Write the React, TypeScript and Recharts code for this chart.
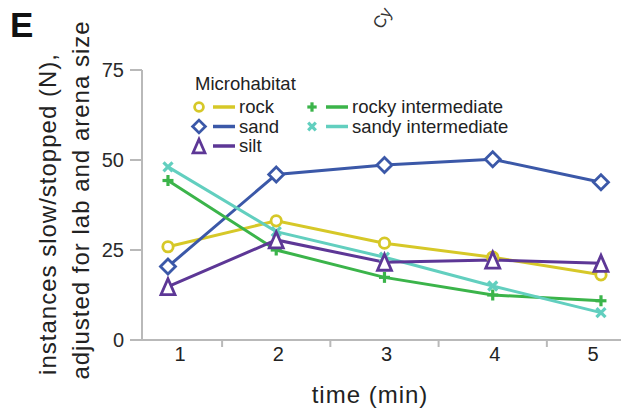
import { LineChart, Line, XAxis, YAxis } from "recharts";

// values
const times = [1, 2, 3, 4, 5];
const rock = [25.9, 33.1, 26.9, 23.0, 18.1];
const sand = [20.4, 46.0, 48.6, 50.2, 43.8];
const silt = [14.8, 27.8, 21.6, 22.2, 21.3];
const rockyIntermediate = [44.3, 25.0, 17.4, 12.5, 10.9];
const sandyIntermediate = [48.1, 30.1, 23.0, 15.0, 7.6];

const yTicks = [0, 25, 50, 75];
const xTicks = [1, 1.5, 2, 2.5, 3, 3.5, 4, 4.5, 5];
// the original panel has its labels slightly off the data points
const labelShift = [12, 2, 2, 2, -8];

const FONT = "'Liberation Sans', Arial, Helvetica, sans-serif";
const AXIS = "#b9b9b9";

const COLORS = {
  rock: "#d6c828",
  sand: "#3b58a8",
  silt: "#5d3796",
  rocky: "#3bb44a",
  sandy: "#62cfbf",
};

const data = times.map((t, i) => ({
  time: t,
  rock: rock[i],
  sand: sand[i],
  silt: silt[i],
  rocky: rockyIntermediate[i],
  sandy: sandyIntermediate[i],
}));

type Shape = "circle" | "diamond" | "triangle" | "plus" | "cross";

function Marker({ cx, cy, shape, color, s = 1 }: { cx: number; cy: number; shape: Shape; color: string; s?: number }) {
  const sw = 2.8;
  switch (shape) {
    case "circle":
      return <circle cx={cx} cy={cy} r={5.2 * s} fill="#fff" stroke={color} strokeWidth={sw} />;
    case "diamond": {
      const d = 7.5 * s;
      return (
        <polygon
          points={`${cx},${cy - d} ${cx + d},${cy} ${cx},${cy + d} ${cx - d},${cy}`}
          fill="#fff"
          stroke={color}
          strokeWidth={sw}
        />
      );
    }
    case "triangle": {
      const w = 7 * s;
      const h = 8 * s;
      return (
        <polygon
          points={`${cx},${cy - h} ${cx + w},${cy + h} ${cx - w},${cy + h}`}
          fill="#fff"
          stroke={color}
          strokeWidth={sw}
        />
      );
    }
    case "plus": {
      const d = 5.5 * s;
      return (
        <g stroke={color} strokeWidth={3.2}>
          <line x1={cx - d} x2={cx + d} y1={cy} y2={cy} />
          <line x1={cx} x2={cx} y1={cy - d} y2={cy + d} />
        </g>
      );
    }
    default: {
      const d = 4.5 * s;
      return (
        <g stroke={color} strokeWidth={3.2}>
          <line x1={cx - d} x2={cx + d} y1={cy - d} y2={cy + d} />
          <line x1={cx - d} x2={cx + d} y1={cy + d} y2={cy - d} />
        </g>
      );
    }
  }
}

const dotFor = (shape: Shape, color: string) => (props: any) => (
  <Marker key={`${shape}-${props.index}`} cx={props.cx} cy={props.cy} shape={shape} color={color} />
);

function XTick(props: any) {
  const { x, y, payload } = props;
  const v = payload.value;
  if (!Number.isInteger(v)) {
    return <line x1={x} x2={x} y1={y} y2={y + 7} stroke={AXIS} strokeWidth={2} />;
  }
  const i = times.indexOf(v);
  return (
    <text x={x + labelShift[i]} y={y + 21} textAnchor="middle" fontSize={20} fontFamily={FONT} fill="#222">
      {v}
    </text>
  );
}

const legendItems: { label: string; shape: Shape; color: string; col: number; row: number }[] = [
  { label: "rock", shape: "circle", color: COLORS.rock, col: 0, row: 0 },
  { label: "sand", shape: "diamond", color: COLORS.sand, col: 0, row: 1 },
  { label: "silt", shape: "triangle", color: COLORS.silt, col: 0, row: 2 },
  { label: "rocky intermediate", shape: "plus", color: COLORS.rocky, col: 1, row: 0 },
  { label: "sandy intermediate", shape: "cross", color: COLORS.sandy, col: 1, row: 1 },
];

export default function App() {
  return (
    <div style={{ position: "absolute", left: 0, top: 0, width: 621, height: 412, background: "#fff", overflow: "hidden" }}>
      <LineChart width={621} height={412} data={data} margin={{ top: 70, right: 0, bottom: 0, left: 0 }}>
        <XAxis
          dataKey="time"
          type="number"
          domain={[0.76, 5.185]}
          ticks={xTicks}
          interval={0}
          height={72}
          tickSize={0}
          tickMargin={0}
          tickLine={false}
          axisLine={{ stroke: AXIS, strokeWidth: 2 }}
          tick={<XTick />}
        />
        <YAxis
          type="number"
          domain={[0, 75]}
          ticks={yTicks}
          width={142}
          tickSize={12}
          tickMargin={6}
          axisLine={{ stroke: AXIS, strokeWidth: 2 }}
          tickLine={{ stroke: AXIS, strokeWidth: 2 }}
          tick={{ fontSize: 20, fontFamily: FONT, fill: "#2a2a2a" }}
        />
        <Line dataKey="rock" stroke={COLORS.rock} strokeWidth={3} dot={dotFor("circle", COLORS.rock)} isAnimationActive={false} />
        <Line dataKey="sand" stroke={COLORS.sand} strokeWidth={3} dot={dotFor("diamond", COLORS.sand)} isAnimationActive={false} />
        <Line dataKey="rocky" stroke={COLORS.rocky} strokeWidth={3} dot={dotFor("plus", COLORS.rocky)} isAnimationActive={false} />
        <Line dataKey="sandy" stroke={COLORS.sandy} strokeWidth={3} dot={dotFor("cross", COLORS.sandy)} isAnimationActive={false} />
        <Line dataKey="silt" stroke={COLORS.silt} strokeWidth={3} dot={dotFor("triangle", COLORS.silt)} isAnimationActive={false} />
      </LineChart>

      <svg width={621} height={412} style={{ position: "absolute", left: 0, top: 0, pointerEvents: "none" }} fontFamily={FONT}>
        <text x={10} y={37} fontSize={35} fontWeight="bold" fill="#111">E</text>
        <text x={382} y={30} fontSize={17} fill="#333" transform="rotate(-60 382 30)">Cy</text>

        <text x={47} y={214} fontSize={24} letterSpacing={1} fill="#222" textAnchor="middle" dominantBaseline="central" transform="rotate(-90 47 214)">
          instances slow/stopped (N),
        </text>
        <text x={80} y={200} fontSize={24} letterSpacing={1} fill="#222" textAnchor="middle" dominantBaseline="central" transform="rotate(-90 80 200)">
          adjusted for lab and arena size
        </text>
        <text x={370} y={403} fontSize={24} letterSpacing={1} fill="#222" textAnchor="middle">time (min)</text>

        <text x={195} y={90} fontSize={18.5} fill="#222">Microhabitat</text>
        {legendItems.map((it) => {
          const bx = it.col === 0 ? 199 : 312;
          const cy = 107 + it.row * 19.5;
          return (
            <g key={it.label}>
              <Marker cx={bx} cy={cy} shape={it.shape} color={it.color} s={0.85} />
              <line x1={bx + 14} x2={bx + 36} y1={cy} y2={cy} stroke={it.color} strokeWidth={3.5} />
              <text x={bx + 40} y={cy + 6} fontSize={18.5} fill="#222">{it.label}</text>
            </g>
          );
        })}
      </svg>
    </div>
  );
}
